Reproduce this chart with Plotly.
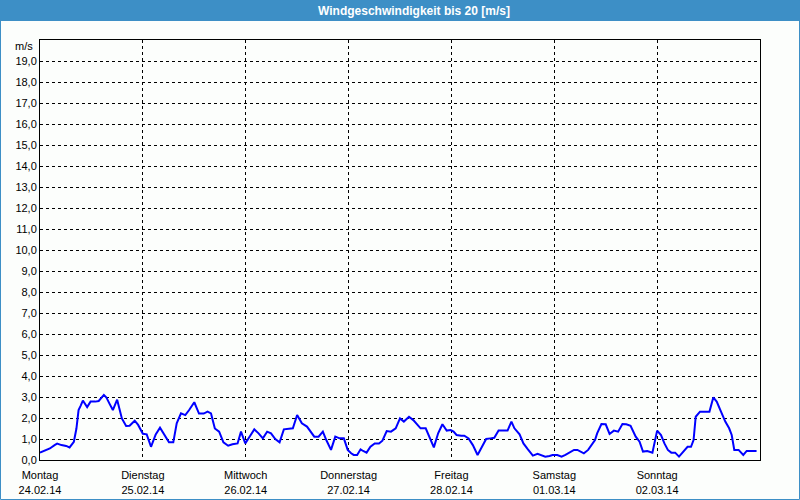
import plotly.graph_objects as go

# --- data (hours since Montag 24.02.14 00:00, wind speed m/s) ---
hours = [0, 1.1, 2.3, 3.4, 4.0, 5.0, 6.1, 6.9, 7.9, 8.5, 9.0, 9.5, 10.0, 11.0, 11.8, 12.9, 13.7, 14.9, 15.5, 16.3,
         17.0, 18.0, 18.6, 19.1, 20.1, 20.9, 22.1, 22.9, 24.0,
         24.9, 25.9, 27.0, 28.0, 29.0, 30.1, 31.1, 31.9, 32.9, 33.9, 34.8, 36.0, 37.1, 38.2, 39.1, 39.9, 40.8,
         41.8, 42.8, 43.9, 44.9, 46.1, 46.9, 47.9,
         48.9, 50.0, 51.0, 52.0, 53.0, 53.9, 54.9, 55.9, 56.9, 58.0, 59.0, 60.0, 60.6, 61.1, 62.3, 63.1, 64.0,
         65.0, 66.0, 66.8, 67.9, 68.9, 69.9, 70.9, 71.8,
         72.6, 73.2, 74.0, 74.8, 75.4, 76.2, 77.1, 78.1, 79.1, 79.9, 80.9, 81.9, 83.0, 84.0, 84.9, 86.1, 87.1,
         87.9, 88.8, 90.0, 91.0, 91.9, 92.9, 93.9, 94.9, 95.8,
         96.5, 97.2, 98.3, 99.0, 100.0, 101.0, 102.1, 103.1, 104.1, 105.1, 106.0, 107.0, 108.0, 109.1, 110.0,
         110.7, 111.9, 112.8, 113.8, 115.0, 116.1, 116.9, 117.9, 118.9, 119.6,
         120.7, 121.7, 122.6, 123.6, 124.6, 125.4, 126.1, 126.9, 127.9, 128.7, 129.5, 130.0, 131.0, 132.0,
         132.9, 133.9, 134.9, 135.9, 136.8, 137.8, 139.0, 139.9, 140.7, 141.7, 142.9, 144.0,
         144.9, 145.7, 146.5, 147.3, 148.2, 149.1, 150.1, 151.1, 151.9, 152.5, 153.0, 154.0, 155.2, 156.2,
         157.1, 157.9, 158.9, 159.9, 160.8, 161.4, 162.0, 163.0, 164.1, 164.9, 166.1, 167.2]
speed = [0.35, 0.43, 0.55, 0.71, 0.78, 0.71, 0.67, 0.60, 0.87, 1.50, 2.38, 2.59, 2.83, 2.52, 2.78, 2.78, 2.81, 3.10, 2.97, 2.65,
         2.38, 2.87, 2.38, 1.98, 1.62, 1.63, 1.87, 1.67, 1.25,
         1.22, 0.63, 1.22, 1.54, 1.19, 0.84, 0.84, 1.75, 2.22, 2.14, 2.38, 2.75, 2.21, 2.21, 2.30, 2.22, 1.50,
         1.35, 0.84, 0.68, 0.75, 0.79, 1.35, 0.79,
         1.11, 1.46, 1.27, 1.03, 1.35, 1.27, 1.00, 0.84, 1.46, 1.48, 1.51, 2.14, 1.94, 1.75, 1.59, 1.38, 1.11,
         1.11, 1.35, 0.95, 0.48, 1.11, 1.03, 1.03, 0.48,
         0.32, 0.24, 0.24, 0.51, 0.43, 0.35, 0.63, 0.79, 0.79, 0.92, 1.38, 1.35, 1.51, 1.98, 1.83, 2.06, 1.90,
         1.70, 1.51, 1.51, 1.03, 0.60, 1.27, 1.70, 1.40, 1.43,
         1.35, 1.19, 1.16, 1.16, 1.03, 0.71, 0.24, 0.63, 1.00, 1.03, 1.06, 1.40, 1.40, 1.40, 1.83,
         1.51, 1.22, 0.79, 0.52, 0.21, 0.29, 0.24, 0.16, 0.19, 0.24,
         0.24, 0.16, 0.24, 0.35, 0.48, 0.48, 0.40, 0.32, 0.48, 0.71, 0.95, 1.27, 1.71, 1.70,
         1.24, 1.40, 1.35, 1.71, 1.70, 1.63, 1.11, 0.87, 0.40, 0.43, 0.35, 1.40,
         1.19, 0.79, 0.48, 0.35, 0.35, 0.16, 0.40, 0.63, 0.63, 0.95, 2.06, 2.30, 2.30, 2.30,
         2.98, 2.78, 2.30, 1.83, 1.51, 1.19, 0.48, 0.48, 0.24, 0.43, 0.43, 0.43]

day_ticks = [0, 24, 48, 72, 96, 120, 144]
day_labels = ["Montag<br>24.02.14", "Dienstag<br>25.02.14", "Mittwoch<br>26.02.14",
              "Donnerstag<br>27.02.14", "Freitag<br>28.02.14", "Samstag<br>01.03.14",
              "Sonntag<br>02.03.14"]
y_ticks = list(range(0, 20))
y_labels = [f"{v},0" for v in y_ticks]
title_text = "Windgeschwindigkeit bis 20 [m/s]"
unit_text = "m/s"

BLUE_FRAME = "#3d8fc6"
BG = "#fcfefc"
FONT = "Liberation Sans"

fig = go.Figure()
fig.add_trace(go.Scatter(x=hours, y=speed, mode="lines",
                         line=dict(color="#0000ff", width=2), hoverinfo="skip"))

# pixel helpers for paper coords (plot area: x 40..760, y 40..460)
def px_x(p):
    return (p - 40) / 720.0

def px_y(p):
    return (460 - p) / 420.0

fig.update_layout(
    width=800, height=500, autosize=False,
    margin=dict(l=40, r=40, t=40, b=40, pad=0, autoexpand=False),
    paper_bgcolor=BG, plot_bgcolor=BG,
    showlegend=False,
    font=dict(family=FONT, size=11, color="black"),
    xaxis=dict(range=[0, 168], tickvals=day_ticks, ticktext=day_labels,
               showline=True, linecolor="black", linewidth=1, mirror=True,
               showgrid=True, gridcolor="black", gridwidth=1, griddash="3px,3px",
               zeroline=False, ticks="", ticklabelstandoff=5, automargin=False,
               tickfont=dict(family=FONT, size=11, color="black"),
               fixedrange=True),
    yaxis=dict(range=[0, 20], tickvals=y_ticks, ticktext=y_labels,
               showline=True, linecolor="black", linewidth=1, mirror=True,
               showgrid=True, gridcolor="black", gridwidth=1, griddash="3px,3px",
               zeroline=False, ticks="", automargin=False,
               tickfont=dict(family=FONT, size=11, color="black"),
               fixedrange=True),
    shapes=[
        dict(type="rect", xref="paper", yref="paper",
             x0=px_x(0), x1=px_x(800), y0=px_y(21), y1=px_y(0),
             fillcolor=BLUE_FRAME, line=dict(width=0), layer="above"),
        dict(type="rect", xref="paper", yref="paper",
             x0=px_x(0.5), x1=px_x(799.5), y0=px_y(499.5), y1=px_y(0.5),
             fillcolor="rgba(0,0,0,0)", line=dict(color=BLUE_FRAME, width=1), layer="above"),
    ],
    annotations=[
        dict(text=title_text, xref="paper", yref="paper", x=px_x(414), y=px_y(10.5),
             xanchor="center", yanchor="middle", showarrow=False,
             font=dict(family=FONT, size=12, color="white", weight="bold")),
        dict(text=unit_text, xref="paper", yref="paper", x=px_x(35), y=px_y(46),
             xanchor="right", yanchor="middle", showarrow=False,
             font=dict(family=FONT, size=11, color="black")),
    ],
)

fig.write_html("out.html", config=dict(displayModeBar=False, staticPlot=True))
